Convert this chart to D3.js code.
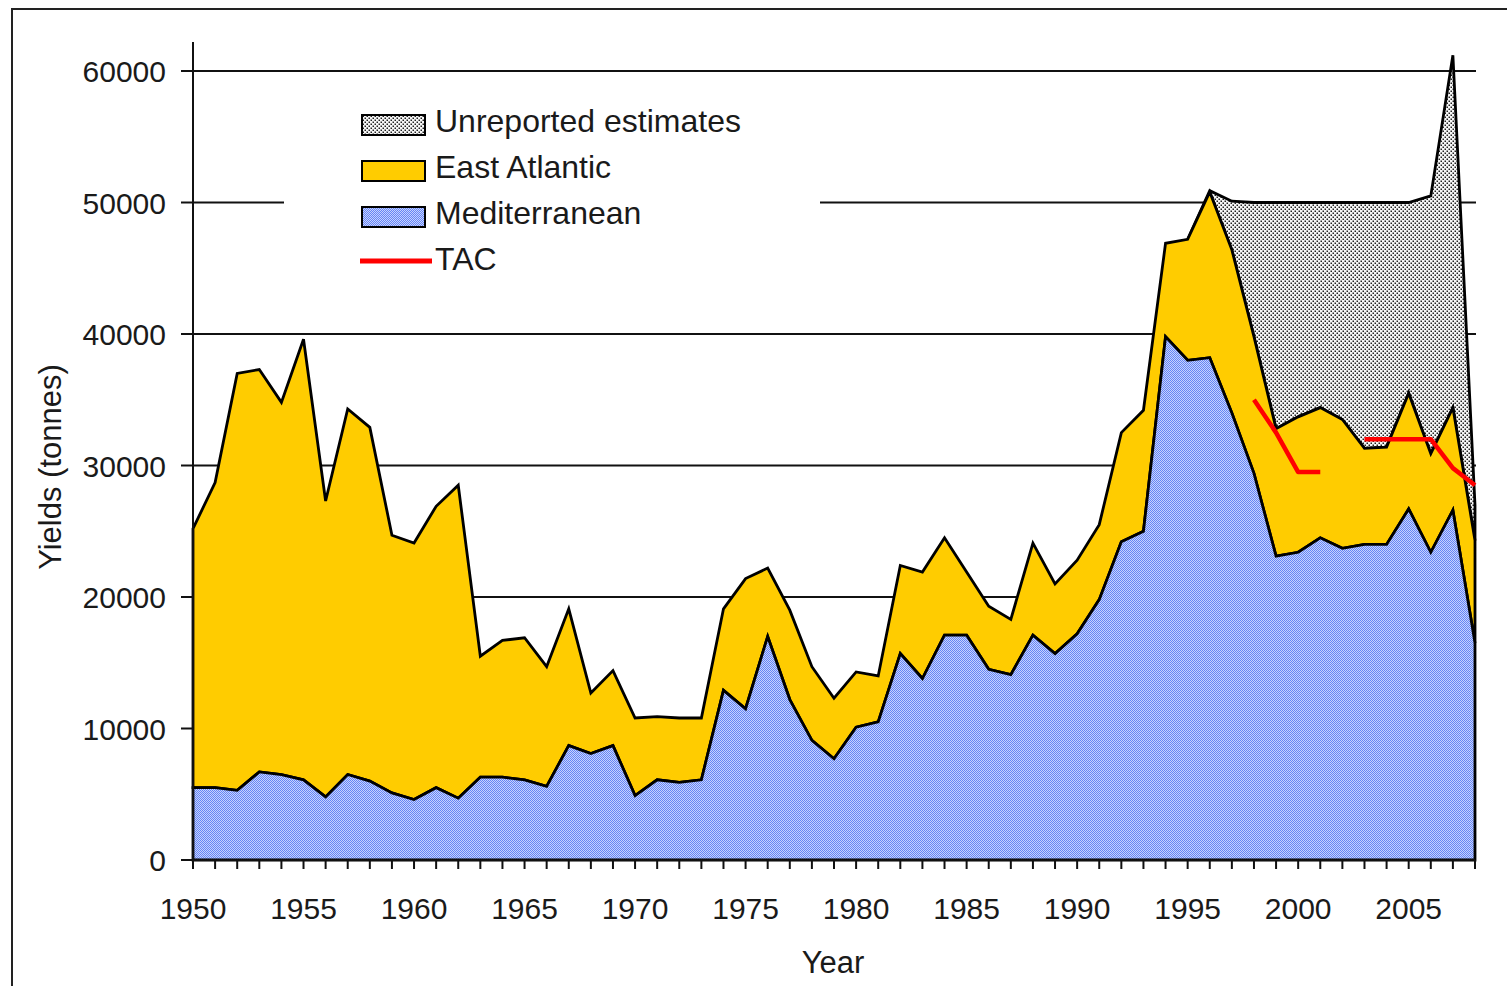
<!DOCTYPE html>
<html lang="en">
  <head>
    <meta charset="utf-8">
    <title>Bluefin tuna yields, East Atlantic and Mediterranean</title>
    <style>
      body { margin: 0; background: #fff; }
      text { font-family: "Liberation Sans", Arial, sans-serif; fill: #1a1a1a; }
    </style>
  </head>
  <body>
    <div id="viz"></div>
    <script src="https://cdn.jsdelivr.net/npm/d3@7/dist/d3.min.js"></script>
    <script>
      const years = [1950, 1951, 1952, 1953, 1954, 1955, 1956, 1957, 1958, 1959,
        1960, 1961, 1962, 1963, 1964, 1965, 1966, 1967, 1968, 1969,
        1970, 1971, 1972, 1973, 1974, 1975, 1976, 1977, 1978, 1979,
        1980, 1981, 1982, 1983, 1984, 1985, 1986, 1987, 1988, 1989,
        1990, 1991, 1992, 1993, 1994, 1995, 1996, 1997, 1998, 1999,
        2000, 2001, 2002, 2003, 2004, 2005, 2006, 2007, 2008]

      const mediterranean = [5500, 5500, 5300, 6700, 6500, 6100, 4800, 6500, 6000, 5100,
        4600, 5500, 4700, 6300, 6300, 6100, 5600, 8700, 8100, 8700,
        4900, 6100, 5900, 6100, 12900, 11500, 17000, 12200, 9100, 7700,
        10100, 10500, 15700, 13800, 17100, 17100, 14500, 14100, 17100, 15700,
        17200, 19800, 24200, 25000, 39800, 38000, 38200, 34000, 29400, 23100,
        23400, 24500, 23700, 24000, 24000, 26700, 23400, 26600, 16500]

      const eastAtlantic = [19700, 23200, 31700, 30600, 28300, 33500, 22500, 27800, 26900, 19600,
        19500, 21400, 23800, 9200, 10400, 10800, 9100, 10400, 4600, 5700,
        5900, 4800, 4900, 4700, 6200, 9900, 5200, 6800, 5600, 4600,
        4200, 3500, 6700, 8100, 7400, 4800, 4800, 4200, 7000, 5300,
        5600, 5700, 8300, 9200, 7100, 9200, 12600, 12400, 10400, 9700,
        10300, 9900, 9800, 7300, 7400, 8800, 7500, 7800, 7800]

      // unreported estimates only exist from the mid 1990s
      const unreported = [0, 0, 0, 0, 0, 0, 0, 0, 0, 0,
        0, 0, 0, 0, 0, 0, 0, 0, 0, 0,
        0, 0, 0, 0, 0, 0, 0, 0, 0, 0,
        0, 0, 0, 0, 0, 0, 0, 0, 0, 0,
        0, 0, 0, 0, 0, 0, 100, 3700, 10200, 17200,
        16300, 15600, 16500, 18700, 18600, 14500, 19600, 26800, 2700]

      const tacYears = [1998, 1999, 2000, 2001, 2002, 2003, 2004, 2005, 2006, 2007, 2008]
      const tacValues = [35000, 32500, 29500, 29500, null, 32000, 32000, 32000, 32000, 29800, 28500]

      const yTicks = [0, 10000, 20000, 30000, 40000, 50000, 60000]
      const xLabels = [1950, 1955, 1960, 1965, 1970, 1975, 1980, 1985, 1990, 1995, 2000, 2005]

      const width = 1507
      const height = 986

      const svg = d3.select('#viz').append('svg')
        .attr('width', width)
        .attr('height', height)

      const x = d3.scaleLinear().domain([1950, 2008]).range([193, 1475])
      const y = d3.scaleLinear().domain([0, 60000]).range([860, 71])

      const defs = svg.append('defs')
      const medPat = defs.append('pattern').attr('id', 'medPat')
        .attr('patternUnits', 'userSpaceOnUse').attr('width', 2).attr('height', 2)
      medPat.append('rect').attr('width', 2).attr('height', 2).attr('fill', '#c6d2ff')
      medPat.append('rect').attr('width', 1).attr('height', 1).attr('fill', '#6686f4')
      medPat.append('rect').attr('x', 1).attr('y', 1).attr('width', 1).attr('height', 1).attr('fill', '#6686f4')

      const unrepPat = defs.append('pattern').attr('id', 'unrepPat')
        .attr('patternUnits', 'userSpaceOnUse').attr('width', 4).attr('height', 4)
      unrepPat.append('rect').attr('width', 4).attr('height', 4).attr('fill', '#f6f6f6')
      unrepPat.append('rect').attr('x', 0.5).attr('y', 0.5).attr('width', 1.5).attr('height', 1.5).attr('fill', '#222')
      unrepPat.append('rect').attr('x', 2.5).attr('y', 2.5).attr('width', 1.5).attr('height', 1.5).attr('fill', '#222')

      // outer frame, runs off the right and bottom of the picture
      svg.append('rect')
        .attr('x', 12).attr('y', 9)
        .attr('width', 1600).attr('height', 1100)
        .attr('fill', 'none').attr('stroke', '#222').attr('stroke-width', 2)

      // gridlines
      svg.append('g')
        .selectAll('line')
        .data(yTicks.filter(d => d > 0))
        .join('line')
          .attr('x1', x(1950)).attr('x2', x(2008) + 1)
          .attr('y1', d => y(d)).attr('y2', d => y(d))
          .attr('stroke', '#111').attr('stroke-width', 2)

      // white legend background hides part of the 50000 line
      svg.append('rect')
        .attr('x', 284).attr('y', 92)
        .attr('width', 536).attr('height', 205)
        .attr('fill', '#fff')

      const rows = years.map((yr, i) => ({
        year: yr,
        med: mediterranean[i],
        east: eastAtlantic[i],
        unrep: unreported[i]
      }))

      const stack = d3.stack().keys(['med', 'east', 'unrep'])
      const series = stack(rows)

      const fills = { med: 'url(#medPat)', east: '#ffcc00', unrep: 'url(#unrepPat)' }

      const area = d3.area()
        .x(d => x(d.data.year))
        .y0(d => y(d[0]))
        .y1(d => y(d[1]))

      // draw unreported first so the yellow outline sits on top of it
      const drawOrder = [series[2], series[1], series[0]]
      svg.append('g')
        .selectAll('path')
        .data(drawOrder)
        .join('path')
          .attr('d', s => s.key === 'unrep' ? area.defined(d => d.data.year >= 1995)(s) : area.defined(() => true)(s))
          .attr('fill', s => fills[s.key])
          .attr('stroke', '#000')
          .attr('stroke-width', 2.8)
          .attr('stroke-linejoin', 'miter')

      // y axis
      const yAxis = svg.append('g')
      yAxis.append('line')
        .attr('x1', 193).attr('x2', 193)
        .attr('y1', 42).attr('y2', 860)
        .attr('stroke', '#111').attr('stroke-width', 2)
      yAxis.selectAll('line.tick')
        .data(yTicks)
        .join('line')
          .attr('class', 'tick')
          .attr('x1', 181).attr('x2', 193)
          .attr('y1', d => y(d)).attr('y2', d => y(d))
          .attr('stroke', '#111').attr('stroke-width', 2)
      yAxis.selectAll('text')
        .data(yTicks)
        .join('text')
          .attr('x', 166)
          .attr('y', d => y(d) + 11)
          .attr('text-anchor', 'end')
          .attr('font-size', 30)
          .text(d => d)

      // x axis
      const xAxis = svg.append('g')
      xAxis.append('line')
        .attr('x1', x(1950)).attr('x2', x(2008))
        .attr('y1', 860).attr('y2', 860)
        .attr('stroke', '#111').attr('stroke-width', 2)
      xAxis.selectAll('line.tick')
        .data(years)
        .join('line')
          .attr('class', 'tick')
          .attr('x1', d => x(d)).attr('x2', d => x(d))
          .attr('y1', 860).attr('y2', 869)
          .attr('stroke', '#111').attr('stroke-width', 2)
      xAxis.selectAll('text')
        .data(xLabels)
        .join('text')
          .attr('x', d => x(d))
          .attr('y', 919)
          .attr('text-anchor', 'middle')
          .attr('font-size', 30)
          .text(d => d)

      svg.append('text')
        .attr('x', 833).attr('y', 973)
        .attr('text-anchor', 'middle')
        .attr('font-size', 31)
        .text('Year')

      svg.append('text')
        .attr('transform', 'translate(61,467) rotate(-90)')
        .attr('text-anchor', 'middle')
        .attr('font-size', 31)
        .text('Yields (tonnes)')

      // TAC line
      const tac = tacYears.map((yr, i) => ({ year: yr, value: tacValues[i] }))
      svg.append('path')
        .datum(tac)
        .attr('d', d3.line()
          .defined(d => d.value !== null)
          .x(d => x(d.year))
          .y(d => y(d.value)))
        .attr('fill', 'none')
        .attr('stroke', '#ff0000')
        .attr('stroke-width', 4.5)
        .attr('stroke-linejoin', 'round')

      // legend
      const legendItems = [
        { label: 'Unreported estimates', fill: 'url(#unrepPat)' },
        { label: 'East Atlantic', fill: '#ffcc00' },
        { label: 'Mediterranean', fill: 'url(#medPat)' },
        { label: 'TAC', line: '#ff0000' }
      ]
      const legend = svg.append('g').attr('transform', 'translate(362,115)')
      const item = legend.selectAll('g')
        .data(legendItems)
        .join('g')
          .attr('transform', (d, i) => `translate(0,${i * 46})`)
      item.filter(d => !d.line).append('rect')
        .attr('width', 63).attr('height', 20)
        .attr('fill', d => d.fill)
        .attr('stroke', '#000').attr('stroke-width', 2)
      item.filter(d => d.line).append('line')
        .attr('x1', -2).attr('x2', 70)
        .attr('y1', 8).attr('y2', 8)
        .attr('stroke', d => d.line).attr('stroke-width', 5)
      item.append('text')
        .attr('x', 73).attr('y', 17)
        .attr('font-size', 32)
        .text(d => d.label)
    </script>
  </body>
</html>
